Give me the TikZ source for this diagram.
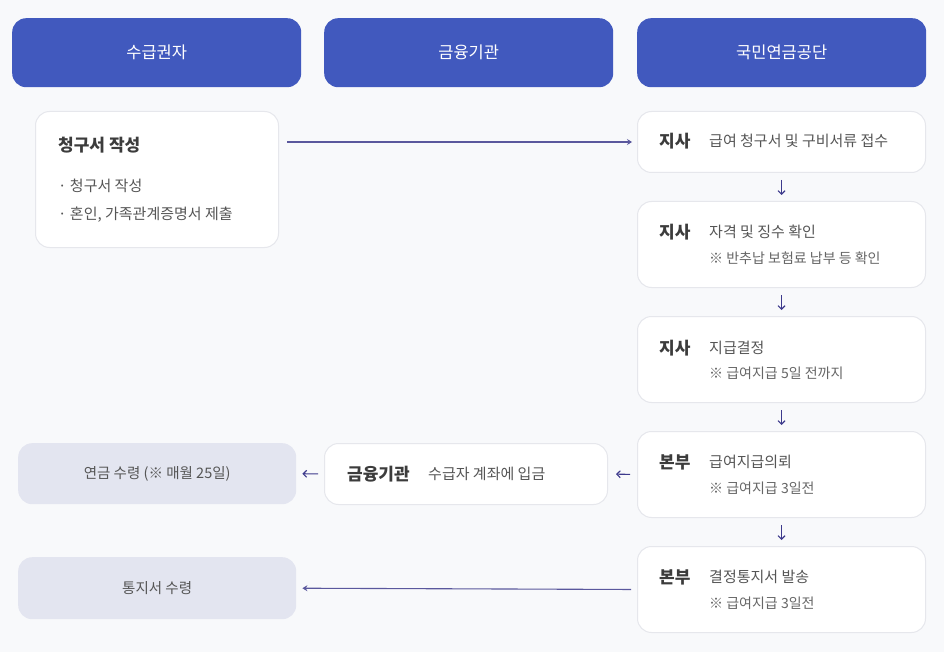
\documentclass[tikz,border=0pt]{standalone}
\usepackage{fontspec}
\setmainfont{Noto Sans CJK KR}
\usetikzlibrary{arrows.meta}
\definecolor{bg}{HTML}{F8F9FB}
\definecolor{hdr}{HTML}{4159BE}
\definecolor{bord}{HTML}{E6E7EC}
\definecolor{graybox}{HTML}{E3E5F0}
\definecolor{arr}{HTML}{3D3A8C}
\definecolor{ttl}{HTML}{3C3C3C}
\definecolor{txt}{HTML}{555555}
\definecolor{note}{HTML}{666666}
\tikzset{
  hdrbox/.style={fill=hdr, draw=none, rounded corners=14pt, minimum width=289pt, minimum height=69pt, anchor=north west,
    text=white, font=\fontsize{16.5}{19}\selectfont},
  whitebox/.style={fill=white, draw=bord, line width=1pt, rounded corners=14pt, anchor=north west, inner sep=0pt},
  grbox/.style={fill=graybox, draw=none, rounded corners=14pt, anchor=north west, inner sep=0pt,
    text=txt, font=\fontsize{14.5}{17}\selectfont},
  ttltext/.style={anchor=base west, inner sep=0pt, text=ttl, font=\fontsize{17}{20}\selectfont\bfseries},
  bodytext/.style={anchor=base west, inner sep=0pt, text=txt, font=\fontsize{15}{18}\selectfont},
  notetext/.style={anchor=base west, inner sep=0pt, text=note, font=\fontsize{14}{17}\selectfont},
  shortarr/.style={draw=arr, line width=1.1pt, -{Straight Barb[length=3.5pt,width=7pt]}},
  longarr/.style={draw=arr!85, line width=1.1pt, -{Stealth[length=5pt,width=6pt]}}
}
\begin{document}
\begin{tikzpicture}[x=1pt,y=-1pt]
\fill[bg] (0,0) rectangle (944,652);
\useasboundingbox (0,0) rectangle (944,652);
% headers
\node[hdrbox] (h1) at (12,18) {수급권자};
\node[hdrbox] (h2) at (324,18) {금융기관};
\node[hdrbox] (h3) at (637,18) {국민연금공단};
% request box
\node[whitebox, minimum width=243pt, minimum height=136pt] (req) at (35,111) {};
\node[ttltext] (reqt) at (58,152) {청구서 작성};
\node[bodytext] (reqa) at (58,192) {· 청구서 작성};
\node[bodytext] (reqb) at (58,220) {· 혼인, 가족관계증명서 제출};
% right column
\node[whitebox, minimum width=288pt, minimum height=61pt] (b1) at (637,111) {};
\node[whitebox, minimum width=288pt, minimum height=86pt] (b2) at (637,201) {};
\node[whitebox, minimum width=288pt, minimum height=86pt] (b3) at (637,316) {};
\node[whitebox, minimum width=288pt, minimum height=86pt] (b4) at (637,431) {};
\node[whitebox, minimum width=288pt, minimum height=86pt] (b5) at (637,546) {};
\node[ttltext] (b1t) at (659,148) {지사};
\node[bodytext] (b1a) at (709,147) {급여 청구서 및 구비서류 접수};
\node[ttltext] (b2t) at (659,239) {지사};
\node[bodytext] (b2a) at (709,238) {자격 및 징수 확인};
\node[notetext] (b2b) at (709,263) {※ 반추납 보험료 납부 등 확인};
\node[ttltext] (b3t) at (659,354) {지사};
\node[bodytext] (b3a) at (709,353) {지급결정};
\node[notetext] (b3b) at (709,378) {※ 급여지급 5일 전까지};
\node[ttltext] (b4t) at (659,468) {본부};
\node[bodytext] (b4a) at (709,467) {급여지급의뢰};
\node[notetext] (b4b) at (709,493) {※ 급여지급 3일전};
\node[ttltext] (b5t) at (659,583) {본부};
\node[bodytext] (b5a) at (709,582) {결정통지서 발송};
\node[notetext] (b5b) at (709,608) {※ 급여지급 3일전};
% finance box
\node[whitebox, minimum width=283pt, minimum height=61pt] (fin) at (324,443) {};
\node[ttltext] (fint) at (347,480) {금융기관};
\node[bodytext] (fina) at (428,479) {수급자 계좌에 입금};
% gray boxes
\node[grbox, minimum width=278pt, minimum height=61pt] (pen) at (18,443) {연금 수령 (※ 매월 25일)};
\node[grbox, minimum width=278pt, minimum height=62pt] (ntc) at (18,557) {통지서 수령};
% connectors
\draw[longarr, shorten <=8pt, shorten >=5pt] (req.east |- b1.west) -- (b1.west);
\draw[shortarr, shorten <=7pt, shorten >=6pt] (b1.south) -- (b2.north);
\draw[shortarr, shorten <=7pt, shorten >=6pt] (b2.south) -- (b3.north);
\draw[shortarr, shorten <=7pt, shorten >=6pt] (b3.south) -- (b4.north);
\draw[shortarr, shorten <=7pt, shorten >=6pt] (b4.south) -- (b5.north);
\draw[shortarr, shorten <=7pt, shorten >=8pt] (b4.west) -- (fin.east);
\draw[shortarr, shorten <=6pt, shorten >=6pt] (fin.west) -- (pen.east);
\draw[longarr, shorten <=6pt, shorten >=6pt] (b5.west) -- (ntc.east);
\end{tikzpicture}
\end{document}
